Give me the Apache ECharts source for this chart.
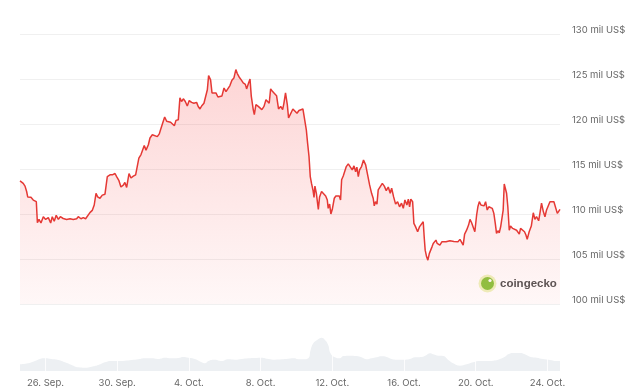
<!DOCTYPE html>
<html>
<head>
<meta charset="utf-8">
<script src="https://cdn.jsdelivr.net/npm/echarts@6/dist/echarts.min.js"></script>
<style>
html,body{margin:0;padding:0;background:#fff;}
#chart{width:644px;height:392px;}
</style>
</head>
<body>
<div id="chart"></div>
<script>
// Time unit: days since 22 Sep 00:00 (so 26 Sep = 4, 24 Oct = 32)
const priceDays = [
2.58,2.76,2.86,2.95,3.01,3.08,3.19,3.32,3.41,3.49,3.55,3.64,3.75,3.88,4.01,4.16,4.29,4.38,4.49,4.60,
4.72,4.83,4.99,5.18,5.37,5.55,5.74,5.83,5.98,6.11,6.24,6.35,6.48,6.61,6.72,6.82,6.91,7.04,7.17,7.32,
7.45,7.60,7.73,7.88,7.97,8.10,8.21,8.34,8.43,8.53,8.66,8.77,8.90,9.03,9.14,9.21,9.33,9.42,9.51,9.61,
9.74,9.83,9.96,10.07,10.24,10.35,10.42,10.54,10.65,10.76,10.87,10.98,11.09,11.19,11.28,11.41,11.50,11.59,11.69,11.80,
11.91,12.02,12.15,12.28,12.43,12.52,12.62,12.71,12.84,12.95,13.03,13.10,13.21,13.29,13.40,13.51,13.62,13.73,13.84,13.96,
14.07,14.18,14.29,14.40,14.51,14.62,14.70,14.81,14.92,15.03,15.15,15.22,15.33,15.41,15.48,15.59,15.65,15.74,15.87,15.96,
16.07,16.19,16.30,16.41,16.48,16.56,16.67,16.78,16.89,17.00,17.12,17.23,17.30,17.39,17.49,17.56,17.69,17.80,17.91,18.03,
18.14,18.25,18.36,18.47,18.55,18.62,18.70,18.77,18.84,18.92,18.98,19.03,19.11,19.16,19.22,19.29,19.40,19.51,19.63,19.72,
19.77,19.85,19.92,20.00,20.11,20.20,20.29,20.39,20.46,20.52,20.61,20.70,20.78,20.89,21.00,21.11,21.21,21.30,21.37,21.45,
21.52,21.63,21.74,21.86,21.97,22.08,22.19,22.28,22.34,22.41,22.49,22.56,22.67,22.79,22.90,23.01,23.12,23.23,23.31,23.42,
23.53,23.64,23.75,23.86,23.96,24.05,24.16,24.24,24.31,24.38,24.48,24.55,24.64,24.76,24.87,24.98,25.07,25.13,25.18,25.26,
25.33,25.41,25.48,25.56,25.63,25.70,25.78,25.85,25.93,26.00,26.11,26.22,26.34,26.45,26.56,26.67,26.78,26.89,27.01,27.12,
27.23,27.30,27.38,27.49,27.60,27.68,27.77,27.86,27.95,28.05,28.12,28.20,28.29,28.38,28.46,28.55,28.64,28.73,28.83,28.92,
29.01,29.09,29.16,29.24,29.31,29.39,29.46,29.53,29.59,29.65,29.72,29.79,29.87,29.94,30.06,30.17,30.28,30.35,30.43,30.50,
30.61,30.72,30.80,30.87,30.98,31.10,31.21,31.30,31.39,31.51,31.58,31.67,31.77,31.86,31.95,32.04,32.14,32.25,32.36,32.47,
32.55,32.62,32.70
];
// price in thousands of US$ ("mil US$")
const prices = [
113.68,113.40,113.10,112.50,111.90,111.75,111.85,111.55,111.60,111.37,109.03,109.40,109.00,109.70,109.40,109.60,109.00,109.70,109.20,109.85,
109.40,109.70,109.50,109.40,109.47,109.40,109.47,109.70,109.47,109.60,109.47,109.40,110.15,110.40,111.00,112.30,111.90,111.75,112.10,112.20,
114.16,114.35,114.35,114.50,114.16,113.70,113.00,113.20,113.50,112.95,114.50,114.00,114.20,114.35,114.50,116.20,116.60,116.65,117.60,117.10,
117.70,118.44,118.80,118.60,118.60,118.90,119.36,120.10,120.78,120.30,120.48,120.20,120.30,119.80,120.40,120.48,122.90,122.50,122.80,122.50,
122.00,122.60,122.40,122.30,122.40,121.95,121.67,122.00,122.30,122.40,123.80,125.38,124.90,123.45,123.26,123.45,123.00,122.80,123.10,124.00,
123.60,123.80,124.27,124.86,125.10,126.05,125.60,125.20,124.90,124.56,124.40,123.90,124.56,125.00,123.10,121.60,121.04,122.15,121.96,122.15,
121.60,121.96,122.70,122.90,122.30,123.90,123.60,123.45,123.15,121.67,121.96,121.60,122.30,123.45,122.15,120.67,121.20,121.67,121.78,121.20,
121.50,121.40,121.67,121.50,119.36,117.90,116.40,114.16,113.40,112.67,111.85,113.10,112.30,112.50,110.52,111.90,112.50,112.30,112.00,111.56,
110.63,111.10,110.00,110.52,111.75,112.00,111.85,112.00,111.56,113.80,114.23,114.35,115.27,115.57,115.46,114.90,115.35,114.70,115.20,114.16,
114.90,115.27,116.00,115.46,114.35,113.23,112.30,111.75,110.90,111.37,111.10,112.67,112.86,113.40,113.10,112.60,113.00,112.30,112.86,111.90,
111.10,111.37,110.80,111.20,110.63,111.56,111.00,111.64,110.80,111.64,111.37,108.96,108.60,108.03,108.60,108.77,109.14,107.30,105.98,105.24,
104.87,105.60,105.43,106.35,106.73,106.54,107.10,106.73,106.91,106.54,106.91,106.73,106.91,106.80,107.02,106.80,106.95,107.10,106.91,107.18,
106.80,106.54,107.77,108.20,108.77,109.40,109.03,108.96,108.03,109.89,110.80,111.37,111.00,111.20,110.90,111.37,110.44,110.80,111.00,110.63,
110.07,108.96,107.85,108.14,107.90,108.58,108.40,110.44,113.34,112.86,112.30,110.80,108.20,108.66,108.40,108.58,108.20,108.40,107.77,108.40,
108.51,108.03,107.66,107.18,108.03,108.66,110.14,109.40,109.70,109.25,110.07,111.20,110.27,109.70,110.44,110.63,111.37,111.20,111.37,111.20,
110.07,110.27,110.52
];
const volumeDays = [
2.58,3.04,3.41,3.69,3.97,4.34,4.72,5.09,5.46,5.83,6.20,6.57,6.95,7.32,7.69,8.06,8.43,8.81,9.18,9.55,
9.92,10.29,10.66,11.04,11.41,11.69,11.97,12.34,12.71,12.90,13.08,13.45,13.83,14.20,14.57,14.94,15.31,15.68,16.06,16.43,
16.80,17.17,17.54,17.91,18.01,18.38,18.66,18.79,18.94,19.16,19.40,19.59,19.77,19.90,20.14,20.42,20.61,20.98,21.35,21.63,
21.91,22.19,22.47,22.75,23.03,23.31,23.59,23.96,24.33,24.61,24.98,25.26,25.44,25.63,25.91,26.19,26.47,26.74,27.12,27.49,
27.86,28.23,28.60,28.98,29.35,29.63,29.81,30.09,30.46,30.74,31.02,31.39,31.76,32.14,32.51,32.70
];
const volumes = [
6.7,7.7,10,12,12.7,12,11,8.7,6,3.7,3.3,4.3,6,8.7,10,10,10.3,11,11.7,12.7,
12.7,12,13.3,12.7,13,14,13.3,12,8.7,7.7,10,11.3,10,11.7,11.3,12,12.7,13,13.3,12,
11.3,11.7,12.3,12.7,12,11.7,12.7,21,27.7,31,33.3,31,26,17.7,13.7,12.7,15,15.3,15,13.7,
11.7,12.7,13.7,14.7,14,12,11.3,11.3,12,13.7,14,16,17.7,16.7,15.3,15,11,7.7,5.3,6.7,
8.7,10,10,10.3,12,14.3,16.7,18,18,16.7,14.3,13.3,12,11,10,10
];
const tickDays = [4,8,12,16,20,24,28,32];
const tickLabels = ['26. Sep.','30. Sep.','4. Oct.','8. Oct.','12. Oct.','16. Oct.','20. Oct.','24. Oct.'];
const yTicks = {min:100, max:130, interval:5};

const pricePairs = priceDays.map((d,i)=>[d,prices[i]]);
const volPairs = volumeDays.map((d,i)=>[d,volumes[i]]);
const xMin = priceDays[0], xMax = priceDays[priceDays.length-1];
const font = 'Inter, "Noto Sans", sans-serif';

function tickLabel(v){
  for (let i=0;i<tickDays.length;i++) if (Math.abs(v-tickDays[i])<1e-6) return tickLabels[i];
  return '';
}

const chart = echarts.init(document.getElementById('chart'), null, {renderer:'canvas'});
chart.setOption({
  animation:false,
  backgroundColor:'#ffffff',
  grid:[
    {left:20, right:84, top:34, height:270},
    {left:20, right:84, top:321, height:50}
  ],
  xAxis:[
    {type:'value', gridIndex:0, min:xMin, max:xMax, minInterval:4, maxInterval:4, show:false},
    {type:'value', gridIndex:1, min:xMin, max:xMax, minInterval:4, maxInterval:4,
     axisLine:{show:false}, axisTick:{show:false}, splitLine:{show:false},
     axisLabel:{formatter:tickLabel, color:'#666666', fontSize:9.5, fontFamily:font, margin:7,
                showMinLabel:false, showMaxLabel:false}}
  ],
  yAxis:[
    {type:'value', gridIndex:0, position:'right', min:yTicks.min, max:yTicks.max, interval:yTicks.interval,
     axisLine:{show:false}, axisTick:{show:false},
     splitLine:{lineStyle:{color:'#f0f0f0', width:1}},
     axisLabel:{formatter:'{value} mil US$', color:'#666666', fontSize:9.5, fontFamily:font, margin:12,
                verticalAlign:'bottom', lineHeight:7}},
    {type:'value', gridIndex:1, min:0, max:50, show:false}
  ],
  series:[
    {type:'line', xAxisIndex:0, yAxisIndex:0, data:pricePairs, showSymbol:false, symbol:'none',
     lineStyle:{color:'#e53935', width:1.5},
     areaStyle:{color:new echarts.graphic.LinearGradient(0,0,0,1,[
        {offset:0, color:'rgba(245,40,40,0.28)'},
        {offset:1, color:'rgba(245,40,40,0.05)'}])},
     z:3},
    {type:'line', xAxisIndex:1, yAxisIndex:1, data:volPairs, smooth:true, showSymbol:false, symbol:'none',
     lineStyle:{width:0}, areaStyle:{color:'#edf0f3', opacity:1},
     markLine:{silent:true, symbol:['none','none'], label:{show:false},
       lineStyle:{color:'#ffffff', width:1, type:'solid', opacity:0.8},
       data:tickDays.map(d=>({xAxis:d}))}}
  ],
  graphic:[
    {type:'circle', shape:{cx:487.5, cy:283.5, r:9}, style:{fill:'#eef4bf'}},
    {type:'circle', shape:{cx:487.5, cy:283.5, r:6.5}, style:{fill:'#8cc541'}},
    {type:'circle', shape:{cx:490, cy:280.5, r:1.6}, style:{fill:'#ffffff'}},
    {type:'text', x:500, y:283.5, style:{text:'coingecko', fill:'#555555', font:'bold 11.5px "Liberation Sans", Arial, sans-serif', textVerticalAlign:'middle'}}
  ]
});
</script>
</body>
</html>
